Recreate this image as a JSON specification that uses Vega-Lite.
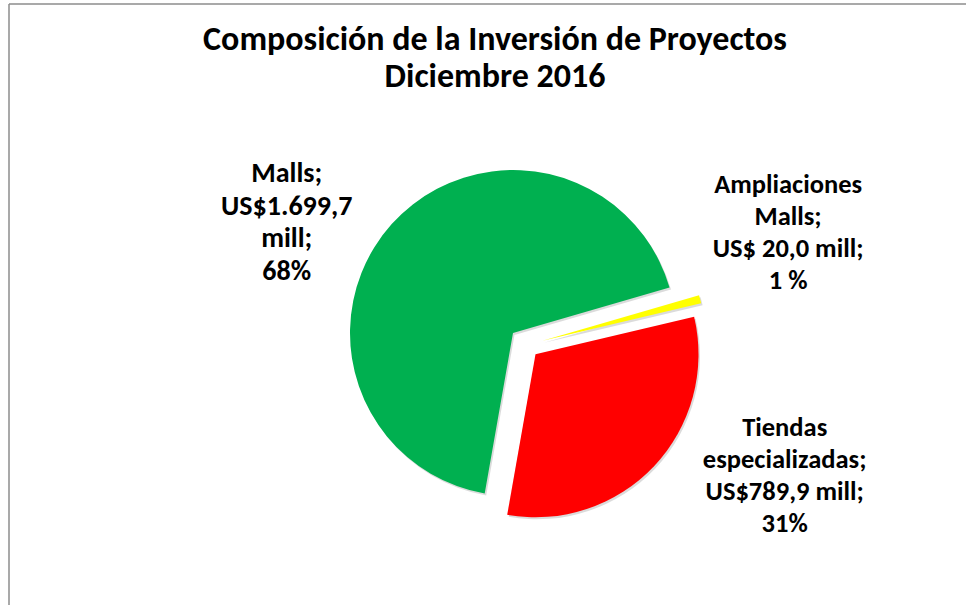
{
  "$schema": "https://vega.github.io/schema/vega-lite/v6.json",
  "width": 957,
  "height": 601,
  "autosize": {"type": "none"},
  "padding": {"left": 9, "top": 4, "right": 0, "bottom": 0},
  "background": "white",
  "config": {
    "view": {"stroke": null},
    "text": {"font": "Carlito, Lato, sans-serif"}
  },
  "title": {
    "text": ["Composición de la Inversión de Proyectos", "Diciembre 2016"],
    "font": "Carlito, Lato, sans-serif",
    "fontSize": 34,
    "fontWeight": "bold",
    "color": "#000000",
    "lineHeight": 37,
    "anchor": "middle",
    "frame": "group",
    "baseline": "top",
    "dx": 7.5,
    "offset": -91
  },
  "layer": [
    {
      "data": {"values": [{"borde": "superior"}]},
      "mark": {"type": "rule", "stroke": "#8c8c8c", "strokeWidth": 1.5},
      "encoding": {"x": {"value": 0}, "x2": {"value": "width"}, "y": {"value": 0}}
    },
    {
      "data": {"values": [{"borde": "izquierdo"}]},
      "mark": {"type": "rule", "stroke": "#8c8c8c", "strokeWidth": 1.5},
      "encoding": {"x": {"value": 0}, "y": {"value": 0}, "y2": {"value": "height"}}
    },
    {
      "data": {
        "values": [
          {"segmento": "Malls", "valor": 1699.7, "orden": 1, "etiqueta": "Malls;\nUS$1.699,7\nmill;\n68%"},
          {"segmento": "Ampliaciones Malls", "valor": 20.0, "orden": 2, "etiqueta": "Ampliaciones\nMalls;\nUS$ 20,0 mill;\n1 %"},
          {"segmento": "Tiendas especializadas", "valor": 789.9, "orden": 3, "etiqueta": "Tiendas\nespecializadas;\nUS$789,9 mill;\n31%"}
        ]
      },
      "encoding": {
        "theta": {"field": "valor", "type": "quantitative", "stack": true, "scale": {"range": [3.3161, 9.5993]}},
        "order": {"field": "orden", "type": "quantitative"}
      },
      "layer": [
        {
          "mark": {"type": "arc", "outerRadius": 163, "xOffset": 27, "yOffset": 30.5, "strokeWidth": 0, "color": "#000000"},
          "encoding": {
            "opacity": {"condition": {"test": "datum.segmento === 'Malls'", "value": 0.14}, "value": 0}
          }
        },
        {
          "mark": {"type": "arc", "outerRadius": 163, "xOffset": 56.5, "yOffset": 38.2, "strokeWidth": 0, "color": "#000000"},
          "encoding": {
            "opacity": {"condition": {"test": "datum.segmento === 'Ampliaciones Malls'", "value": 0.14}, "value": 0}
          }
        },
        {
          "mark": {"type": "arc", "outerRadius": 163, "xOffset": 49.5, "yOffset": 51.8, "strokeWidth": 0, "color": "#000000"},
          "encoding": {
            "opacity": {"condition": {"test": "datum.segmento === 'Tiendas especializadas'", "value": 0.14}, "value": 0}
          }
        },
        {
          "mark": {"type": "arc", "outerRadius": 163, "xOffset": 25.5, "yOffset": 28.5, "strokeWidth": 0},
          "encoding": {
            "color": {"field": "segmento", "type": "nominal", "legend": null,
              "scale": {"domain": ["Malls", "Ampliaciones Malls", "Tiendas especializadas"], "range": ["#00B050", "#FFFF00", "#FF0000"]}},
            "opacity": {"condition": {"test": "datum.segmento === 'Malls'", "value": 1}, "value": 0}
          }
        },
        {
          "mark": {"type": "arc", "outerRadius": 163, "xOffset": 55, "yOffset": 36.2, "strokeWidth": 0},
          "encoding": {
            "color": {"field": "segmento", "type": "nominal", "legend": null},
            "opacity": {"condition": {"test": "datum.segmento === 'Ampliaciones Malls'", "value": 1}, "value": 0}
          }
        },
        {
          "mark": {"type": "arc", "outerRadius": 163, "xOffset": 48, "yOffset": 49.8, "strokeWidth": 0},
          "encoding": {
            "color": {"field": "segmento", "type": "nominal", "legend": null},
            "opacity": {"condition": {"test": "datum.segmento === 'Tiendas especializadas'", "value": 1}, "value": 0}
          }
        },
        {
          "mark": {"type": "text", "radius": 255, "dx": -11, "dy": 40, "fontSize": 28, "fontWeight": "bold", "lineHeight": 32.5, "lineBreak": "\n", "align": "center", "baseline": "middle", "color": "#000000"},
          "encoding": {
            "text": {"condition": {"test": "datum.segmento === 'Malls'", "field": "etiqueta"}, "value": ""}
          }
        },
        {
          "mark": {"type": "text", "radius": 300, "dx": 10.5, "dy": -43, "fontSize": 26.5, "fontWeight": "bold", "lineHeight": 32, "lineBreak": "\n", "align": "center", "baseline": "middle", "color": "#000000"},
          "encoding": {
            "text": {"condition": {"test": "datum.segmento === 'Ampliaciones Malls'", "field": "etiqueta"}, "value": ""}
          }
        },
        {
          "mark": {"type": "text", "radius": 300, "dx": 79, "dy": -82.5, "fontSize": 26.5, "fontWeight": "bold", "lineHeight": 32, "lineBreak": "\n", "align": "center", "baseline": "middle", "color": "#000000"},
          "encoding": {
            "text": {"condition": {"test": "datum.segmento === 'Tiendas especializadas'", "field": "etiqueta"}, "value": ""}
          }
        }
      ]
    }
  ]
}
